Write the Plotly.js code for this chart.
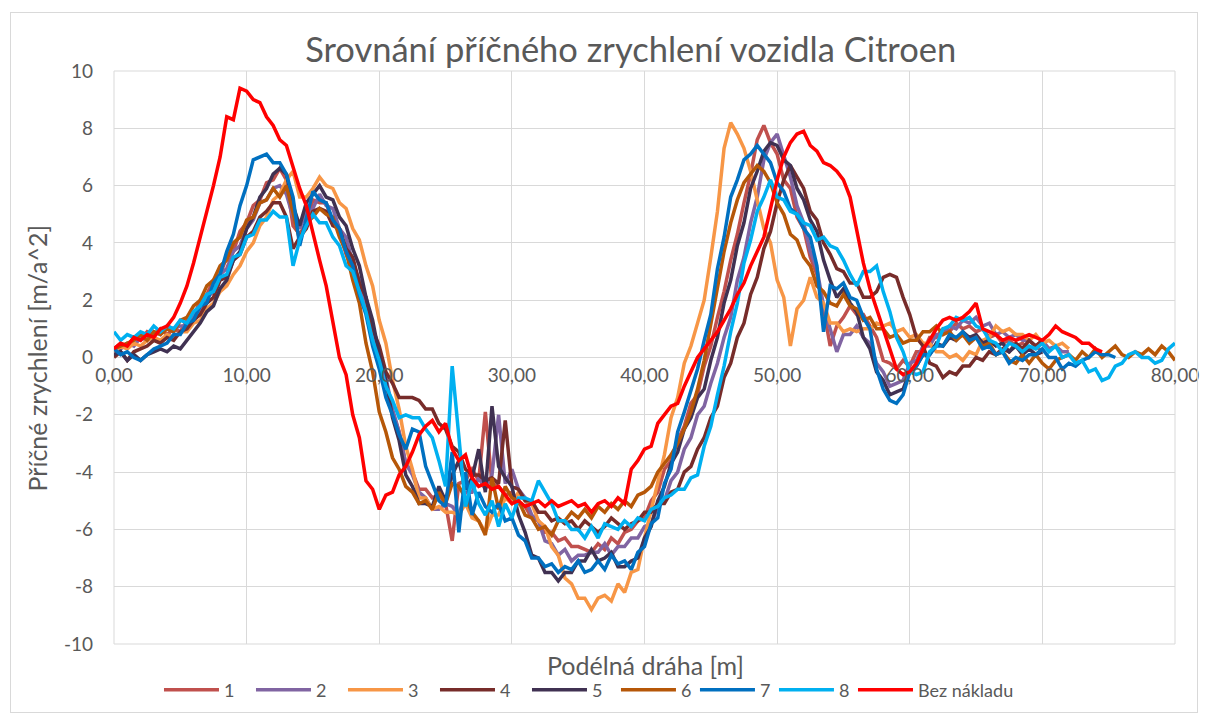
<!DOCTYPE html>
<html><head><meta charset="utf-8">
<script src="https://cdn.plot.ly/plotly-3.0.1.min.js"></script>
<style>
body{margin:0;background:#fff}
#wrap{position:relative;width:1207px;height:724px}
#chart{width:1207px;height:724px}
#frame{position:absolute;left:10px;top:12px;width:1186px;height:699px;border:1px solid #d9d9d9;pointer-events:none}
</style>
</head><body><div id="wrap"><div id="chart"></div><div id="frame"></div></div>
<script>
const X = [0,0.5,1,1.5,2,2.5,3,3.5,4,4.5,5,5.5,6,6.5,7,7.5,8,8.5,9,9.5,
10,10.5,11,11.5,12,12.5,13,13.5,14,14.5,15,15.5,16,16.5,17,17.5,18,18.5,19,19.5,
20,20.5,21,21.5,22,22.5,23,23.5,24,24.5,25,25.5,26,26.5,27,27.5,28,28.5,29,29.5,
30,30.5,31,31.5,32,32.5,33,33.5,34,34.5,35,35.5,36,36.5,37,37.5,38,38.5,39,39.5,
40,40.5,41,41.5,42,42.5,43,43.5,44,44.5,45,45.5,46,46.5,47,47.5,48,48.5,49,49.5,
50,50.5,51,51.5,52,52.5,53,53.5,54,54.5,55,55.5,56,56.5,57,57.5,58,58.5,59,59.5,
60,60.5,61,61.5,62,62.5,63,63.5,64,64.5,65,65.5,66,66.5,67,67.5,68,68.5,69,69.5,
70,70.5,71,71.5,72,72.5,73,73.5,74,74.5,75,75.5,76,76.5,77,77.5,78,78.5,79,79.5,80];

const seriesNames = ['1','2','3','4','5','6','7','8','Bez nákladu'];
const seriesColors = ['#C0504D','#8064A2','#F79646','#772C2A','#403152','#B65708','#0070C0','#00B0F0','#FF0000'];

const s1 = [0.3,0.5,0.4,0.7,0.6,0.9,0.8,1.0,0.8,1.0,
0.9,1.3,1.4,2.0,2.2,2.7,2.9,3.5,3.7,4.4,
4.7,5.3,5.5,6.1,6.2,6.6,6.2,4.6,4.3,4.7,
5.5,5.4,5.4,4.7,4.4,3.6,3.1,2.2,1.7,0.8,
0.3,-0.8,-1.9,-2.6,-3.7,-4.0,-4.6,-4.6,-4.9,-4.8,
-5.1,-6.4,-4.4,-4.3,-3.9,-4.3,-1.9,-4.4,-4.5,-4.8,
-4.7,-5.1,-5.2,-5.6,-5.7,-6.1,-6.1,-6.4,-6.3,-6.6,
-6.6,-6.7,-6.8,-6.5,-6.7,-6.3,-6.5,-6.1,-6.0,-5.7,
-5.6,-5.0,-4.7,-3.9,-3.6,-2.9,-2.4,-1.6,-1.3,-0.3,
0.4,1.4,2.3,3.4,4.3,5.4,6.4,7.6,8.1,7.5,
7.1,6.2,5.9,4.9,4.5,3.5,2.9,1.7,0.4,1.1,
1.4,1.8,1.5,1.5,1.1,0.7,-0.1,-0.2,-0.4,-0.1,
-0.3,0.2,0.2,0.7,0.7,1.0,0.9,1.2,1.0,1.1,
0.9,1.0,0.7,0.8,0.5,0.6,0.4,0.5,0.3,0.4,
0.2];

const s2 = [0.2,0.3,0.5,0.4,0.7,0.6,0.9,0.8,1.1,1.0,
1.1,1.1,1.5,1.6,2.1,2.3,2.9,3.1,3.7,3.9,
4.5,4.8,5.4,5.5,5.9,6.0,5.7,4.9,4.5,5.1,
5.2,5.7,5.3,5.2,4.5,4.2,3.3,2.7,1.7,1.1,
0.0,-0.7,-1.8,-2.6,-3.7,-4.1,-4.7,-4.9,-5.3,-5.3,
-5.1,-5.2,-5.5,-4.7,-4.7,-4.2,-4.6,-4.1,-2.0,-4.4,
-3.9,-4.6,-4.9,-5.5,-5.7,-6.4,-6.5,-6.9,-6.7,-7.1,
-6.9,-6.9,-6.8,-6.8,-6.5,-6.9,-6.6,-6.6,-6.3,-6.3,
-5.9,-5.8,-5.2,-5.0,-4.3,-4.0,-3.2,-2.8,-2.0,-1.7,
-0.9,-0.2,0.7,1.4,2.7,3.5,4.7,5.6,6.9,7.5,
7.8,7.0,6.3,5.3,4.7,3.7,3.1,1.8,1.0,0.2,
0.8,0.8,1.1,0.7,0.5,-0.2,-0.5,-1.0,-0.9,-0.8,
-0.2,-0.1,0.4,0.4,0.8,0.8,1.1,1.0,1.3,1.2,
1.4,1.1,1.2,0.8,0.9,0.7,0.8,0.6,0.6,0.4,
0.6,0.3,0.4,0.2,0.2];

const s3 = [0.2,0.4,0.3,0.5,0.4,0.6,0.7,0.6,0.8,0.7,
0.9,0.9,1.2,1.3,1.7,1.9,2.3,2.5,2.9,3.2,
3.7,4.0,4.6,4.9,5.5,5.7,6.2,6.5,5.6,5.6,
5.9,6.3,6.0,5.9,5.4,5.2,4.5,4.1,3.2,2.5,
1.3,0.5,-0.8,-1.8,-3.1,-3.9,-4.9,-4.9,-5.3,-5.2,
-5.4,-5.4,-5.5,-5.1,-5.6,-5.7,-6.1,-5.5,-5.5,-4.9,
-5.1,-4.7,-5.0,-5.1,-5.7,-5.9,-6.6,-6.9,-7.7,-7.9,
-8.4,-8.4,-8.8,-8.4,-8.3,-8.5,-7.9,-8.2,-7.5,-7.4,
-6.3,-5.3,-4.3,-3.4,-2.1,-1.4,-0.2,0.4,1.2,2.0,
3.5,5.1,7.3,8.2,7.8,7.3,6.5,5.5,4.5,4.0,
2.7,2.1,0.4,1.7,2.0,2.8,2.1,1.9,1.2,1.2,
0.9,1.0,0.9,1.0,1.0,1.2,1.1,1.2,0.9,1.0,
0.7,0.8,0.5,0.5,0.2,0.2,0.0,0.1,-0.1,0.2,
0.1,0.6,0.7,1.1,0.9,1.0,0.8,0.8,0.6,0.8,
0.5,0.6,0.4,0.5,0.3];

const s4 = [0.0,0.2,-0.1,0.2,0.3,0.4,0.6,0.5,0.7,0.6,
0.9,1.0,1.3,1.5,1.9,2.1,2.7,2.8,3.4,3.6,
4.2,4.4,4.9,5.1,5.4,5.4,4.9,3.8,4.2,4.5,
5.1,5.2,5.1,4.6,4.5,3.8,3.5,2.6,2.1,1.0,
0.4,-0.5,-0.9,-1.4,-1.4,-1.4,-1.5,-1.8,-1.8,-2.3,
-2.5,-3.1,-3.3,-3.9,-4.1,-4.1,-4.3,-4.2,-4.4,-2.2,
-4.5,-4.6,-5.0,-5.0,-5.4,-5.4,-5.7,-5.6,-5.8,-5.7,
-6.0,-5.7,-5.9,-6.1,-5.9,-5.6,-5.8,-6.0,-5.8,-5.7,
-5.4,-5.4,-5.1,-5.1,-4.7,-4.6,-4.0,-3.8,-3.2,-2.8,
-2.1,-1.7,-0.7,-0.2,0.7,1.2,2.2,2.8,3.8,4.4,
5.4,6.2,6.7,6.3,5.9,5.1,4.8,4.0,3.6,3.1,
3.0,2.6,2.6,2.1,2.1,2.3,2.8,2.9,2.8,2.1,
1.5,0.7,0.4,-0.2,-0.3,-0.7,-0.5,-0.6,-0.3,-0.3,
0.0,-0.1,0.2,0.1,0.3,0.2,0.5,0.3,0.6,0.4,
0.6];

const s5 = [0.1,0.2,-0.1,0.1,-0.1,0.1,0.2,0.3,0.2,0.4,
0.3,0.6,0.9,1.2,1.6,1.8,2.4,2.7,3.4,3.7,
4.5,4.9,5.6,5.9,6.4,6.6,6.4,5.3,4.6,5.4,
5.7,6.0,5.6,5.5,4.9,4.6,3.8,3.2,2.1,1.3,
0.1,-0.8,-2.1,-2.9,-4.1,-4.5,-5.1,-5.1,-5.2,-4.5,
-5.0,-4.1,-3.6,-4.6,-4.2,-3.2,-4.7,-1.7,-3.8,-4.2,
-4.5,-5.5,-6.1,-6.9,-7.0,-7.5,-7.5,-7.8,-7.5,-7.5,
-7.1,-7.1,-6.7,-7.1,-7.0,-6.8,-7.3,-7.3,-7.1,-7.0,
-6.3,-5.9,-5.0,-4.5,-3.7,-3.3,-2.5,-2.1,-1.4,-1.1,
-0.1,0.7,1.9,2.7,3.9,4.7,5.9,6.5,7.2,7.5,
7.4,6.9,6.7,5.9,5.5,4.8,4.4,3.4,2.7,2.1,
2.4,1.9,1.6,0.7,0.3,-0.5,-0.8,-1.3,-1.2,-1.1,
-0.5,-0.3,0.1,0.1,0.5,0.4,0.7,0.6,0.9,0.7,
0.8,0.5,0.6,0.4,0.5,0.2,0.4,0.1,0.3,0.1,
0.2];

const s6 = [0.3,0.4,0.5,0.6,0.8,0.6,0.9,0.8,1.0,0.9,
1.3,1.4,1.8,2.0,2.5,2.7,3.2,3.4,4.0,4.2,
4.8,4.9,5.4,5.5,5.9,5.6,6.0,5.1,4.1,4.7,
4.9,5.2,5.0,4.9,4.2,3.7,2.7,1.9,0.5,-0.5,
-1.9,-2.6,-3.5,-3.9,-4.5,-4.7,-5.1,-5.0,-5.3,-4.7,
-5.1,-4.4,-4.5,-4.9,-5.4,-5.7,-6.2,-4.2,-5.3,-4.5,
-4.9,-5.0,-5.5,-5.6,-6.0,-5.9,-6.2,-5.7,-5.7,-5.4,
-5.6,-5.3,-5.6,-5.2,-5.4,-5.1,-5.3,-5.0,-5.2,-4.8,
-4.7,-4.5,-4.0,-3.7,-3.4,-3.0,-2.5,-1.9,-1.1,-0.1,
1.2,2.5,3.7,4.7,5.5,6.1,6.4,6.7,6.5,6.1,
5.4,5.0,4.3,4.1,3.5,3.2,2.5,2.3,1.9,1.8,
2.2,1.8,1.7,1.3,1.4,1.0,1.0,0.7,0.8,0.5,
0.6,0.6,0.9,0.9,1.1,0.8,0.9,0.6,0.8,0.5,
0.7,0.4,0.5,0.1,0.2,-0.1,-0.2,0.1,-0.2,0.1,
-0.2,-0.4,-0.1,0.0,0.1,-0.1,0.2,0.0,0.3,0.0,
0.2,0.4,0.1,0.0,0.2,0.1,0.3,0.1,0.4,0.2,
-0.1];

const s7 = [0.3,0.1,0.2,0.0,-0.1,0.1,0.3,0.4,0.5,0.8,
0.8,1.2,1.3,1.8,1.9,2.6,2.9,3.7,4.3,5.3,
6.0,6.9,7.0,7.1,6.8,6.8,6.4,5.6,3.9,4.9,
5.8,5.5,5.4,4.8,4.5,3.7,3.2,2.2,1.5,0.4,
-0.4,-1.4,-2.0,-2.7,-3.2,-2.5,-2.6,-3.8,-4.4,-5.0,
-5.2,-3.3,-6.1,-4.0,-5.5,-4.7,-5.2,-5.4,-5.1,-5.7,
-5.6,-6.2,-6.4,-7.0,-7.0,-7.3,-7.2,-7.5,-7.3,-7.4,
-7.1,-7.5,-7.4,-7.1,-7.4,-6.9,-7.2,-7.1,-7.4,-6.8,
-6.6,-5.8,-5.6,-4.4,-3.9,-2.6,-1.9,-1.1,-0.4,0.6,
1.5,3.1,4.2,5.6,6.2,6.9,7.1,7.4,7.1,6.8,
6.1,5.8,5.2,5.0,4.5,4.2,3.2,0.9,2.5,2.4,
2.6,2.1,2.0,1.4,1.0,-0.4,-1.1,-1.5,-1.6,-1.3,
-0.5,-0.3,0.1,0.1,0.4,0.4,0.8,0.7,0.9,0.6,
0.7,0.3,0.4,0.1,0.2,-0.2,0.0,-0.1,0.1,0.1,
0.3,0.0,0.0,-0.4,-0.2,-0.3,-0.1,0.0,0.2,0.1,
0.1,0.0];

const s8 = [0.9,0.6,0.8,0.7,0.9,0.8,1.1,0.9,1.1,1.0,
1.3,1.2,1.6,1.8,2.2,2.3,2.8,2.9,3.5,3.6,
4.2,4.3,4.8,4.8,5.1,4.9,4.9,3.2,4.1,4.6,
5.0,4.7,4.7,4.2,3.9,3.2,3.0,2.3,1.6,0.6,
-0.1,-1.0,-1.5,-2.1,-2.0,-2.1,-2.1,-2.5,-2.8,-3.6,
-4.5,-0.3,-2.7,-5.2,-4.3,-5.1,-5.5,-5.0,-5.9,-5.1,
-5.6,-4.9,-4.9,-5.0,-4.3,-4.7,-5.1,-5.7,-5.7,-6.0,
-6.0,-6.3,-5.9,-6.3,-5.8,-5.9,-6.0,-5.7,-5.9,-5.6,
-5.7,-5.3,-5.2,-4.9,-4.8,-4.6,-4.6,-4.2,-4.1,-3.1,
-2.4,-1.3,-0.3,0.9,1.9,3.3,4.1,5.1,5.6,6.2,
5.6,5.5,5.1,5.0,4.7,4.6,4.1,4.2,3.9,3.8,
3.4,2.9,2.5,3.0,3.0,3.2,2.3,1.6,0.7,0.2,
-0.5,-0.6,-0.5,0.2,0.4,1.0,1.1,1.4,1.3,1.4,
1.1,1.0,0.6,0.5,0.2,0.5,0.4,0.2,0.4,0.3,
0.5,0.2,0.4,0.0,0.1,-0.2,-0.1,-0.5,-0.4,-0.8,
-0.7,-0.3,-0.2,0.1,0.2,0.0,0.0,-0.2,-0.1,0.3,
0.5];

const sBez = [0.3,0.5,0.4,0.7,0.6,0.8,0.7,1.0,1.1,1.4,
1.9,2.5,3.3,4.2,5.0,6.0,7.0,8.4,8.3,9.4,
9.3,9.0,8.9,8.4,8.1,7.6,7.4,6.6,5.9,5.3,
4.3,3.4,2.5,1.2,0.0,-0.6,-2.0,-2.8,-4.3,-4.6,
-5.3,-4.8,-4.7,-4.1,-3.8,-3.3,-2.7,-2.4,-2.2,-2.6,
-2.3,-3.2,-3.6,-3.4,-4.2,-4.5,-4.4,-4.6,-4.5,-4.8,
-5.1,-5.0,-5.2,-5.1,-5.0,-5.2,-5.0,-5.2,-5.1,-5.0,
-5.2,-5.1,-5.4,-5.1,-5.0,-5.2,-4.9,-5.1,-3.9,-3.6,
-3.2,-3.1,-2.3,-2.0,-1.7,-1.6,-1.0,-0.5,0.0,0.3,
0.6,0.9,1.3,1.7,2.2,2.6,3.2,3.7,4.2,5.2,
6.2,7.0,7.5,7.8,7.9,7.4,7.2,6.8,6.7,6.5,
6.2,5.6,4.4,3.3,2.4,1.7,1.0,0.3,-0.4,-0.6,
-0.5,-0.2,0.3,0.6,1.0,1.3,1.4,1.3,1.4,1.6,
1.9,1.0,0.9,0.8,0.6,0.7,0.6,0.7,0.8,0.7,
0.6,0.8,1.1,0.9,0.8,0.7,0.5,0.5,0.3,0.2];

const xTickVals = [0,10,20,30,40,50,60,70,80];
const xTickText = ['0,00','10,00','20,00','30,00','40,00','50,00','60,00','70,00','80,00'];
const yTickVals = [-10,-8,-6,-4,-2,0,2,4,6,8,10];
const yTickText = ['-10','-8','-6','-4','-2','0','2','4','6','8','10'];

const allSeries = [s1,s2,s3,s4,s5,s6,s7,s8,sBez];
const legendOf = i => (i < 5 ? 'legend' : (i < 8 ? 'legend2' : 'legend3'));
const traces = allSeries.map((ys, i) => ({
  type: 'scatter', mode: 'lines',
  name: seriesNames[i],
  x: X.slice(0, ys.length), y: ys,
  line: {color: seriesColors[i], width: 3.5},
  legend: legendOf(i)
}));

const FONT = 'Lato, "Open Sans", sans-serif';
const GRAY = '#595959';
const legendCommon = {
  orientation: 'h', xref: 'paper', yref: 'paper', xanchor: 'left', yanchor: 'middle',
  y: -0.0803, entrywidthmode: 'pixels', itemwidth: 55,
  font: {family: FONT, size: 18, color: GRAY}, bgcolor: 'rgba(0,0,0,0)', traceorder: 'normal'
};

const layout = {
  width: 1207, height: 724,
  margin: {l: 114, r: 32, t: 71, b: 80, autoexpand: false},
  paper_bgcolor: '#ffffff', plot_bgcolor: '#ffffff',
  font: {family: FONT, color: GRAY, size: 19},
  title: {text: 'Srovnání příčného zrychlení vozidla Citroen', font: {family: FONT, size: 34.5, color: GRAY},
          x: 0.487, xref: 'paper', xanchor: 'center', y: 0.931, yref: 'container', yanchor: 'middle'},
  xaxis: {range: [0, 80], tickvals: xTickVals, ticktext: xTickText, showgrid: true, gridcolor: '#d9d9d9', gridwidth: 1,
          zeroline: false, showline: false, anchor: 'free', position: 0.5, ticks: '', ticklabelstandoff: 4,
          tickfont: {family: FONT, size: 19, color: GRAY}, fixedrange: true, automargin: false},
  yaxis: {range: [-10, 10], tickvals: yTickVals, ticktext: yTickText, showgrid: true, gridcolor: '#d9d9d9', gridwidth: 1,
          zeroline: true, zerolinecolor: '#d9d9d9', zerolinewidth: 1, showline: false, ticks: '', ticklabelstandoff: 20,
          tickfont: {family: FONT, size: 19, color: GRAY}, fixedrange: true, automargin: false},
  showlegend: true,
  legend: Object.assign({}, legendCommon, {x: 0.0424, entrywidth: 22}),
  legend2: Object.assign({}, legendCommon, {x: 0.4731, entrywidth: 9}),
  legend3: Object.assign({}, legendCommon, {x: 0.6965, entrywidth: 110}),
  shapes: [{type: 'rect', xref: 'paper', yref: 'paper', x0: 0, x1: 1, y0: 0, y1: 1,
            line: {color: '#d9d9d9', width: 1}, layer: 'below'}],
  annotations: [
    {text: 'Podélná dráha [m]', xref: 'paper', yref: 'paper', x: 0.5005, y: -0.0366,
     xanchor: 'center', yanchor: 'middle', showarrow: false, font: {family: FONT, size: 25, color: GRAY}},
    {text: 'Příčné zrychlení [m/a^2]', xref: 'paper', yref: 'paper', x: -0.0726, y: 0.5, textangle: -90,
     xanchor: 'center', yanchor: 'middle', showarrow: false, font: {family: FONT, size: 25, color: GRAY}}
  ]
};

Plotly.newPlot('chart', traces, layout, {displayModeBar: false, staticPlot: true});
</script></body></html>
